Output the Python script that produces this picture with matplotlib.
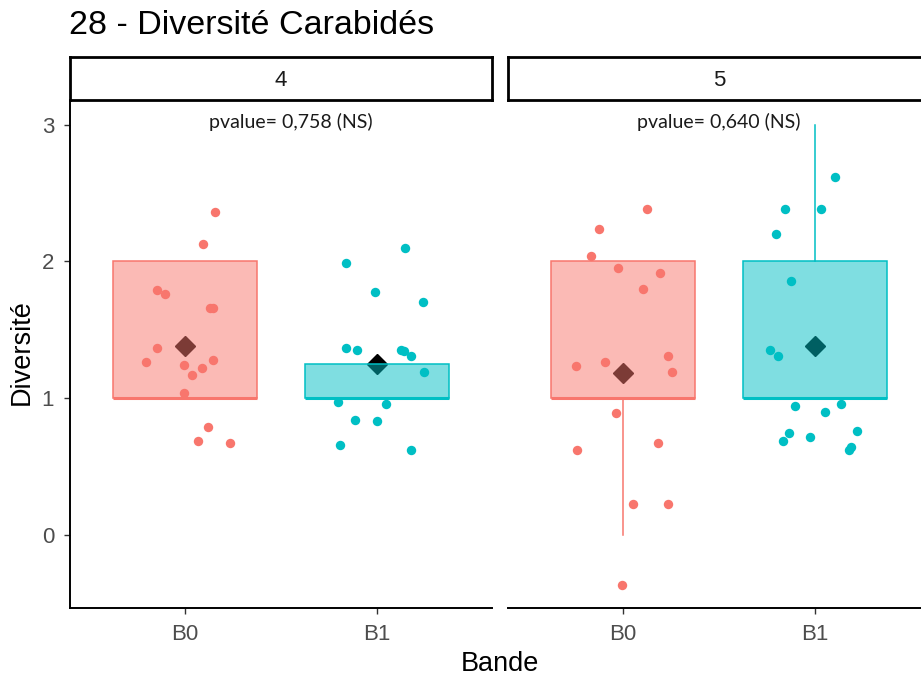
import numpy as np
import matplotlib
matplotlib.use('Agg')
import matplotlib.pyplot as plt

plt.rcParams['font.family'] = ['Liberation Sans', 'DejaVu Sans']

# ---- data ----
facets = ['4', '5']
groups = ['B0', 'B1']
pvalues = ['pvalue= 0,758 (NS)', 'pvalue= 0,640 (NS)']

# jittered points : horizontal offset from the group centre, value
f4_b0_dx = [0.156, 0.095, -0.147, -0.104, 0.129, 0.146, -0.147, -0.205,
            -0.005, 0.087, 0.146, 0.035, -0.005, 0.118, 0.066, 0.236]
f4_b0_y  = [2.363, 2.127, 1.790, 1.761, 1.661, 1.661, 1.366, 1.266,
            1.241, 1.224, 1.280, 1.168, 1.037, 0.788, 0.690, 0.675]
f4_b1_dx = [0.149, -0.163, -0.012, 0.238, -0.163, -0.103, 0.127, 0.141,
            0.177, 0.248, -0.205, 0.047, -0.113, -0.002, -0.193, 0.177]
f4_b1_y  = [2.099, 1.985, 1.773, 1.702, 1.366, 1.353, 1.353, 1.346,
            1.309, 1.195, 0.971, 0.958, 0.843, 0.832, 0.661, 0.620]
f5_b0_dx = [0.123, -0.127, -0.167, -0.026, 0.194, 0.103, 0.234, -0.246,
            -0.095, 0.255, -0.036, 0.182, -0.238, 0.054, 0.234, -0.005]
f5_b0_y  = [2.380, 2.238, 2.041, 1.955, 1.914, 1.800, 1.309, 1.238,
            1.266, 1.195, 0.890, 0.675, 0.620, 0.225, 0.225, -0.368]
f5_b1_dx = [0.106, -0.155, 0.033, -0.205, -0.125, -0.234, -0.194, -0.106,
            0.054, 0.135, -0.135, -0.165, -0.026, 0.217, 0.186, 0.176]
f5_b1_y  = [2.619, 2.380, 2.380, 2.197, 1.858, 1.353, 1.309, 0.946,
            0.902, 0.958, 0.746, 0.690, 0.717, 0.761, 0.646, 0.620]

# box statistics per facet, order B0, B1
f4_q1     = [1.0, 1.0]
f4_med    = [1.0, 1.0]
f4_q3     = [2.0, 1.25]
f4_whislo = [1.0, 1.0]
f4_whishi = [2.0, 1.25]
f4_mean   = [1.378, 1.25]

f5_q1     = [1.0, 1.0]
f5_med    = [1.0, 1.0]
f5_q3     = [2.0, 2.0]
f5_whislo = [0.0, 1.0]
f5_whishi = [2.0, 3.0]
f5_mean   = [1.183, 1.378]

colors = ['#F8766D', '#00BFC4']

points = {
    '4': [(f4_b0_dx, f4_b0_y), (f4_b1_dx, f4_b1_y)],
    '5': [(f5_b0_dx, f5_b0_y), (f5_b1_dx, f5_b1_y)],
}
boxes = {
    '4': (f4_q1, f4_med, f4_q3, f4_whislo, f4_whishi, f4_mean),
    '5': (f5_q1, f5_med, f5_q3, f5_whislo, f5_whishi, f5_mean),
}

# ---- layout ----
W, H = 921, 679
fig = plt.figure(figsize=(W / 100, H / 100), dpi=100)
panel_x = [70, 508]
panel_w = 422
panel_top, panel_bot = 100, 608
strip_top = 57

for i, fac in enumerate(facets):
    ax = fig.add_axes([panel_x[i] / W, 1 - panel_bot / H,
                       panel_w / W, (panel_bot - panel_top) / H])
    q1, med, q3, wlo, whi, mean = boxes[fac]
    for j in range(2):
        dx, yy = points[fac][j]
        ax.scatter(np.array(dx) + j + 1, yy, s=46, color=colors[j],
                   linewidths=0, zorder=1)
    ax.plot([1, 2], mean, linestyle='none', marker='D', markersize=10,
            color='black', zorder=2)
    stats = []
    for j in range(2):
        stats.append(dict(q1=q1[j], med=med[j], q3=q3[j],
                          whislo=wlo[j], whishi=whi[j], fliers=[]))
    bp = ax.bxp(stats, positions=[1, 2], widths=0.75, patch_artist=True,
                showcaps=False, showfliers=False, zorder=3)
    for j in range(2):
        bp['boxes'][j].set_facecolor(matplotlib.colors.to_rgba(colors[j], 0.5))
        bp['boxes'][j].set_edgecolor(colors[j])
        bp['boxes'][j].set_linewidth(1.1)
        bp['medians'][j].set_color(colors[j])
        bp['medians'][j].set_linewidth(2.2)
        for w in bp['whiskers'][2 * j:2 * j + 2]:
            w.set_color(colors[j])
            w.set_linewidth(1.1)

    ax.text(1.55 if i == 0 else 1.5, 3.02, pvalues[i], ha='center',
            va='center', fontsize=14, family=['Lato', 'DejaVu Sans'],
            color='#1A1A1A')

    ax.set_xlim(0.4, 2.6)
    ax.set_ylim(-0.534, 3.18)
    ax.set_xticks([1, 2])
    ax.set_xticklabels(groups)
    ax.set_yticks([0, 1, 2, 3])
    for s in ['top', 'right']:
        ax.spines[s].set_visible(False)
    ax.spines['bottom'].set_linewidth(1.4)
    ax.spines['left'].set_linewidth(1.4)
    ax.tick_params(length=4.5, width=1.0, color='#333333',
                   labelsize=16, labelcolor='#4D4D4D', pad=7)
    if i > 0:
        ax.spines['left'].set_visible(False)
        ax.tick_params(axis='y', left=False, labelleft=False)

    sx = fig.add_axes([panel_x[i] / W, 1 - panel_top / H,
                       panel_w / W, (panel_top - strip_top) / H])
    sx.set_xticks([])
    sx.set_yticks([])
    for s in sx.spines.values():
        s.set_linewidth(2.0)
        s.set_color('black')
    sx.text(0.5, 0.45, fac, ha='center', va='center', fontsize=16,
            color='#1A1A1A', transform=sx.transAxes)

fig.text(69 / W, 1 - 25 / H, '28 - Diversité Carabidés', ha='left',
         va='center', fontsize=24.5, color='black')
fig.text(500 / W, 1 - 664 / H, 'Bande', ha='center', va='center',
         fontsize=19.5, color='black')
fig.text(22 / W, 1 - 352 / H, 'Diversité', ha='center', va='center',
         rotation=90, fontsize=19.5, color='black')

fig.savefig('out.png', dpi=100)
